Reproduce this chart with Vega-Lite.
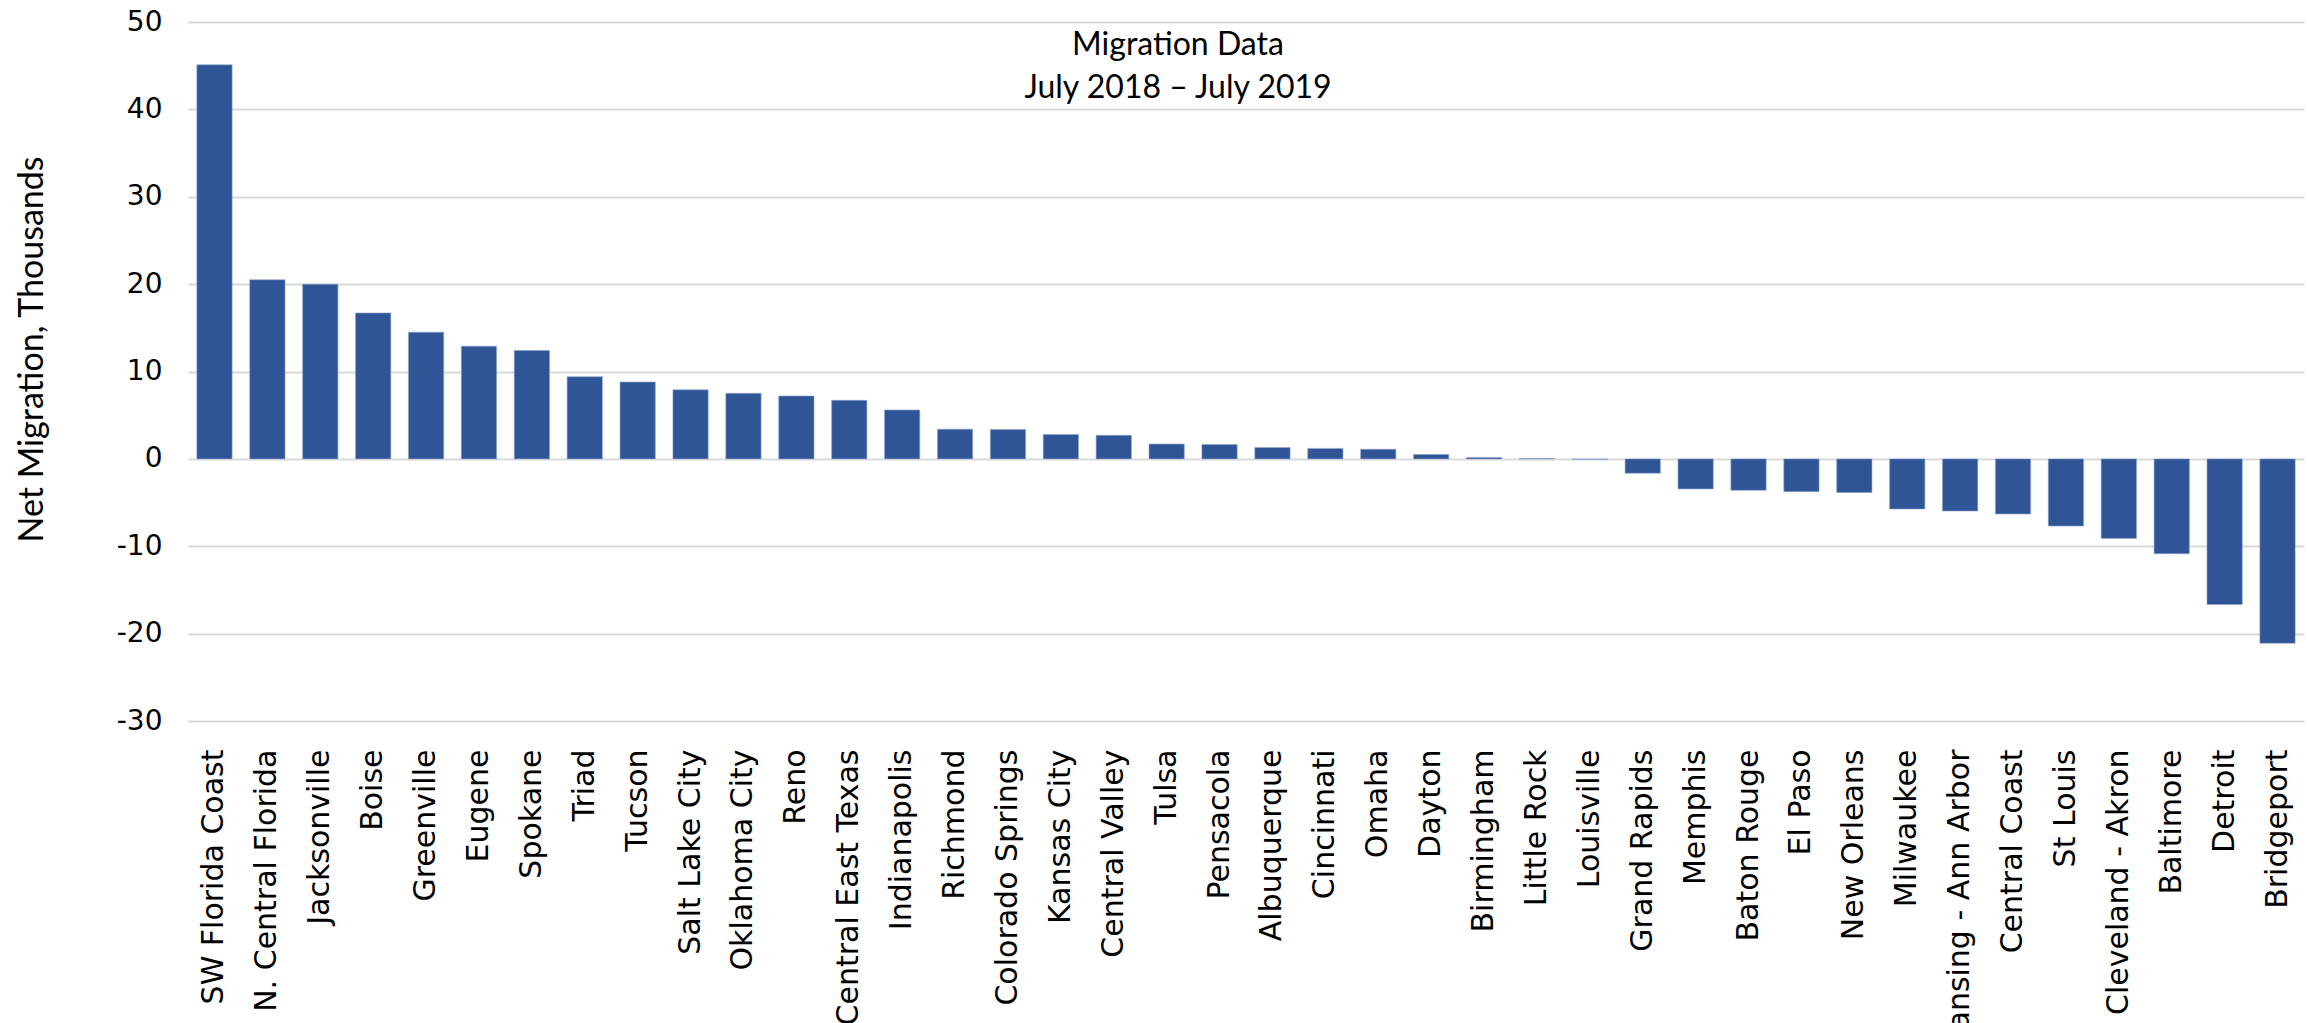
{
  "$schema": "https://vega.github.io/schema/vega-lite/v6.json",
  "width": 2116,
  "height": 699,
  "autosize": {"type": "none"},
  "padding": {"left": 188, "top": 22, "right": 4, "bottom": 302},
  "background": "white",
  "title": {
    "text": ["Migration Data", "July 2018 – July 2019"],
    "font": "Lato",
    "fontSize": 32,
    "fontWeight": "normal",
    "color": "#000000",
    "anchor": "middle",
    "baseline": "top",
    "offset": 0,
    "dx": -68,
    "dy": 97,
    "lineHeight": 43
  },
  "data": {
    "values": [
      {"region": "SW Florida Coast", "value": 45.1},
      {"region": "N. Central Florida", "value": 20.5},
      {"region": "Jacksonville", "value": 20.0},
      {"region": "Boise", "value": 16.7},
      {"region": "Greenville", "value": 14.5},
      {"region": "Eugene", "value": 12.9},
      {"region": "Spokane", "value": 12.4},
      {"region": "Triad", "value": 9.4},
      {"region": "Tucson", "value": 8.8},
      {"region": "Salt Lake City", "value": 7.9},
      {"region": "Oklahoma City", "value": 7.5},
      {"region": "Reno", "value": 7.2},
      {"region": "Central East Texas", "value": 6.7},
      {"region": "Indianapolis", "value": 5.6},
      {"region": "Richmond", "value": 3.4},
      {"region": "Colorado Springs", "value": 3.35},
      {"region": "Kansas City", "value": 2.8},
      {"region": "Central Valley", "value": 2.7},
      {"region": "Tulsa", "value": 1.7},
      {"region": "Pensacola", "value": 1.65},
      {"region": "Albuquerque", "value": 1.3},
      {"region": "Cincinnati", "value": 1.2},
      {"region": "Omaha", "value": 1.1},
      {"region": "Dayton", "value": 0.5},
      {"region": "Birmingham", "value": 0.15},
      {"region": "Little Rock", "value": 0.03},
      {"region": "Louisville", "value": -0.05},
      {"region": "Grand Rapids", "value": -1.64},
      {"region": "Memphis", "value": -3.44},
      {"region": "Baton Rouge", "value": -3.6},
      {"region": "El Paso", "value": -3.75},
      {"region": "New Orleans", "value": -3.86},
      {"region": "Milwaukee", "value": -5.74},
      {"region": "Lansing - Ann Arbor", "value": -5.97},
      {"region": "Central Coast", "value": -6.31},
      {"region": "St Louis", "value": -7.69},
      {"region": "Cleveland - Akron", "value": -9.1},
      {"region": "Baltimore", "value": -10.86},
      {"region": "Detroit", "value": -16.67},
      {"region": "Bridgeport", "value": -21.1}
    ]
  },
  "mark": {"type": "bar", "color": "#2F5597", "stroke": "#8EA6D2", "strokeWidth": 0.6},
  "encoding": {
    "x": {
      "field": "region",
      "type": "nominal",
      "sort": null,
      "scale": {"paddingInner": 0.333, "paddingOuter": 0.167},
      "axis": {
        "title": null,
        "labelAngle": -90,
        "labelFont": "DejaVu Sans",
        "labelFontSize": 30,
        "labelColor": "#000000",
        "labelPadding": 28,
        "labelLimit": 1000,
        "labelOverlap": false,
        "labelFlush": false,
        "domain": false,
        "ticks": false,
        "grid": false
      }
    },
    "y": {
      "field": "value",
      "type": "quantitative",
      "scale": {"domain": [-30, 50], "nice": false, "zero": false},
      "axis": {
        "title": "Net Migration, Thousands",
        "values": [-30, -20, -10, 0, 10, 20, 30, 40, 50],
        "labelExpr": "'' + datum.value",
        "grid": true,
        "gridColor": "#D9D9D9",
        "gridWidth": 2,
        "domain": false,
        "ticks": false,
        "labelFont": "DejaVu Sans",
        "labelFontSize": 28,
        "labelColor": "#000000",
        "labelPadding": 26,
        "titleFont": "Lato",
        "titleFontSize": 34,
        "titleFontWeight": "normal",
        "titleColor": "#000000",
        "titleX": -156,
        "titleY": 327,
        "titleAngle": -90,
        "titleAlign": "center",
        "titleBaseline": "middle"
      }
    }
  },
  "config": {"view": {"stroke": null}}
}
